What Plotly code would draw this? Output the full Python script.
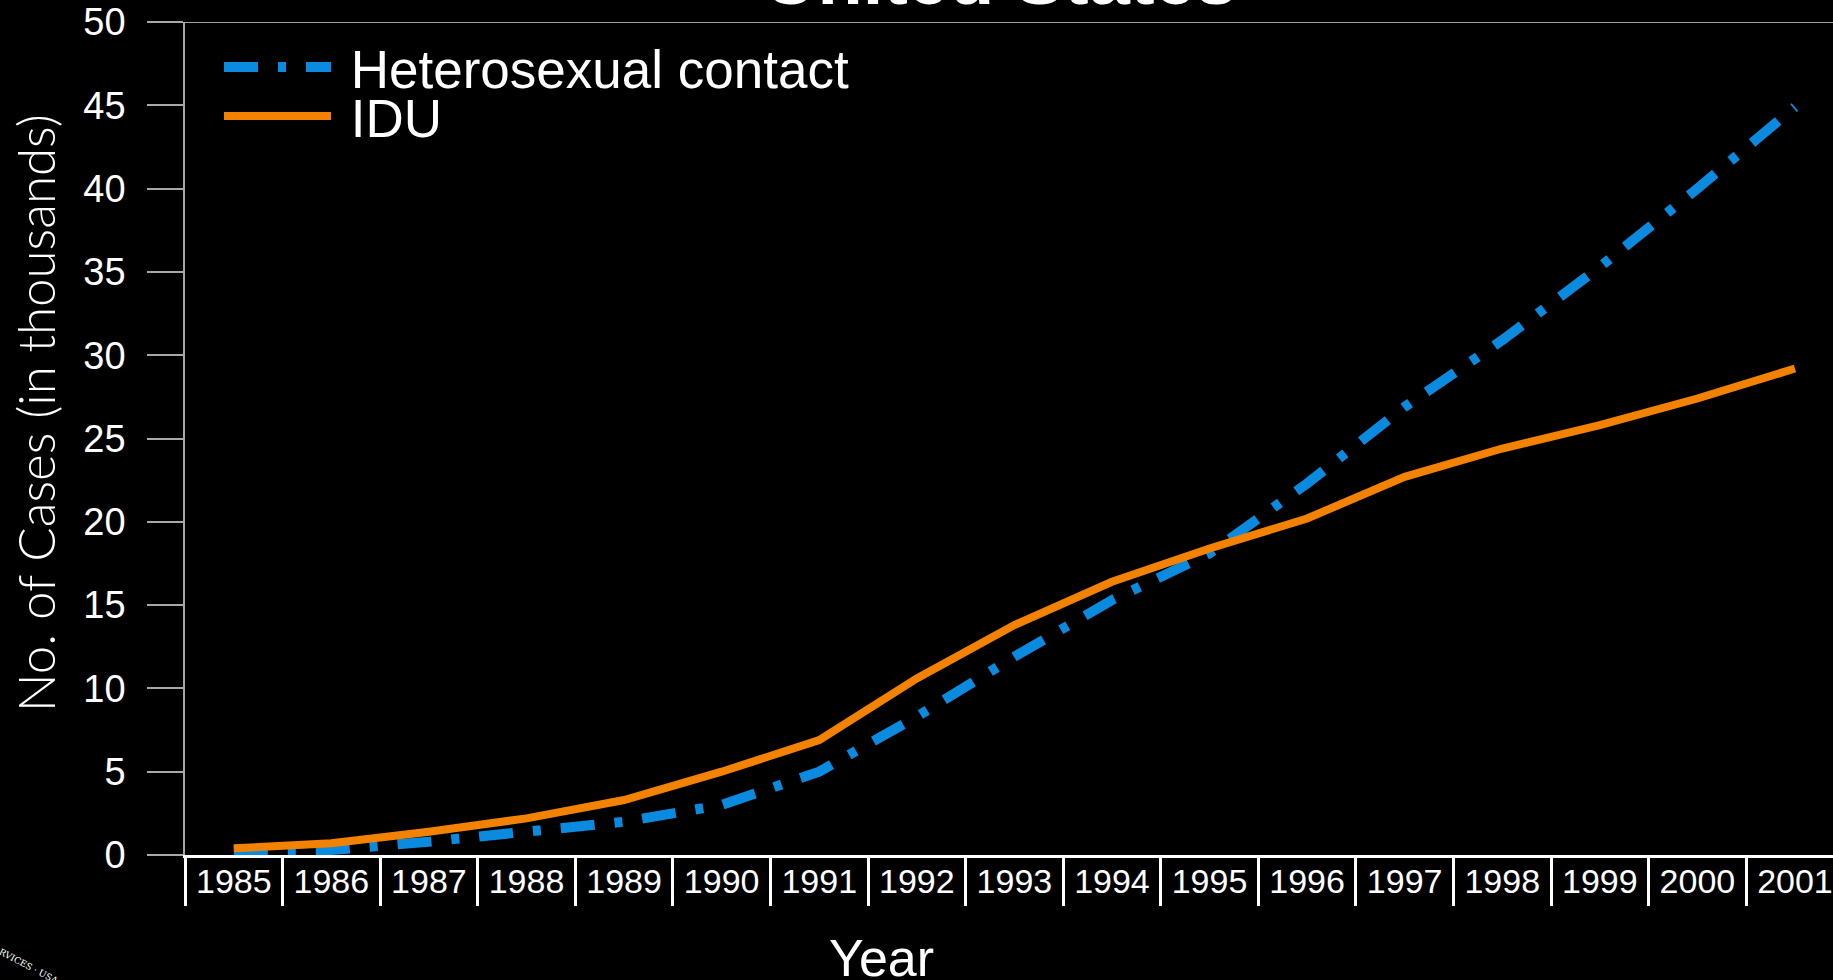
import plotly.graph_objects as go

# データ（単位：千件）
years = ["1985", "1986", "1987", "1988", "1989", "1990", "1991", "1992", "1993",
         "1994", "1995", "1996", "1997", "1998", "1999", "2000", "2001"]
hetero = [0.25, 0.3, 0.8, 1.4, 2.0, 3.0, 5.0, 8.3, 11.9, 15.3, 18.1, 22.3, 26.9,
          30.9, 35.3, 40.0, 44.9]
idu = [0.4, 0.7, 1.4, 2.2, 3.3, 5.0, 6.9, 10.6, 13.8, 16.4, 18.4, 20.2, 22.7,
       24.4, 25.8, 27.4, 29.2]
y_ticks = [0, 5, 10, 15, 20, 25, 30, 35, 40, 45, 50]

ARIAL = "Arial, Liberation Sans, sans-serif"
BLUE = "#0A8BE0"
ORANGE = "#F28200"

# プロット領域（px）
LEFT, TOP, BOTTOM, W = 185, 22, 855, 1648
H = BOTTOM - TOP


def px_x(x):
    return (x - LEFT) / W


def px_y(y):
    return (BOTTOM - y) / H


fig = go.Figure()

# 凡例の線と文字の間隔用に先頭へ空白を入れる
fig.add_trace(go.Scatter(
    x=years, y=hetero, name="\u00a0Heterosexual contact", mode="lines",
    line=dict(color=BLUE, width=10, dash="34px,20px,8px,20px"),
    legend="legend",
))
fig.add_trace(go.Scatter(
    x=years, y=idu, name="\u00a0IDU", mode="lines",
    line=dict(color=ORANGE, width=8),
    legend="legend2",
))

# 上端の横線
fig.add_shape(type="line", xref="paper", yref="y", x0=0, x1=1, y0=50, y1=50,
              line=dict(color="#d8d8d8", width=1.5), layer="below")

# タイトル（上端で切れている）
fig.add_annotation(text="<b>United States</b>", xref="paper", yref="paper",
                   x=px_x(1000), y=1, xanchor="center", yanchor="bottom",
                   showarrow=False,
                   font=dict(family=ARIAL, size=74, color="white"))

# Y軸タイトル
fig.add_annotation(text="No. of Cases (in thousands)", xref="paper", yref="paper",
                   x=px_x(35), y=px_y(413), xanchor="center", yanchor="middle",
                   textangle=-90, showarrow=False,
                   font=dict(family="Lato, sans-serif", size=51, weight=300,
                             color="white"))

# X軸タイトル
fig.add_annotation(text="Year", xref="paper", yref="paper",
                   x=px_x(881), y=px_y(958),
                   xanchor="center", yanchor="middle", showarrow=False,
                   font=dict(family=ARIAL, size=52, color="white"))

# 左下のロゴの一部
fig.add_annotation(text="RVICES · USA", xref="paper", yref="paper",
                   x=px_x(28), y=px_y(966),
                   xanchor="center", yanchor="middle", showarrow=False,
                   textangle=28,
                   font=dict(family="DejaVu Serif, serif", size=9, color="white"))

legend_style = dict(
    xanchor="left", yanchor="middle", bgcolor="rgba(0,0,0,0)", itemwidth=107,
    font=dict(family=ARIAL, size=53, color="white"),
)

fig.update_layout(
    width=1833, height=980,
    paper_bgcolor="black", plot_bgcolor="black",
    margin=dict(l=LEFT, r=0, t=TOP, b=980 - BOTTOM),
    showlegend=True,
    legend=dict(x=px_x(219), y=px_y(67), **legend_style),
    legend2=dict(x=px_x(219), y=px_y(116), **legend_style),
    hovermode=False,
    xaxis=dict(
        type="category", range=[-0.5, 16.39],
        showline=True, linecolor="white", linewidth=2.5,
        ticks="outside", tickson="boundaries", ticklen=48, tickwidth=2.5,
        tickcolor="white", ticklabelstandoff=-6,
        tickfont=dict(family=ARIAL, size=34, color="white"),
        showgrid=False, zeroline=False,
    ),
    yaxis=dict(
        range=[0, 50], tickvals=y_ticks,
        showline=True, linecolor="#a8a8a8", linewidth=1.5,
        ticks="outside", ticklen=36, tickwidth=1.5, tickcolor="#a8a8a8",
        ticklabelstandoff=14,
        tickfont=dict(family=ARIAL, size=38, color="white"),
        showgrid=False, zeroline=False,
    ),
)

fig.write_html(
    "out.html",
    config={"displayModeBar": False},
    post_script="document.body.style.margin='0';document.body.style.background='black';",
)
